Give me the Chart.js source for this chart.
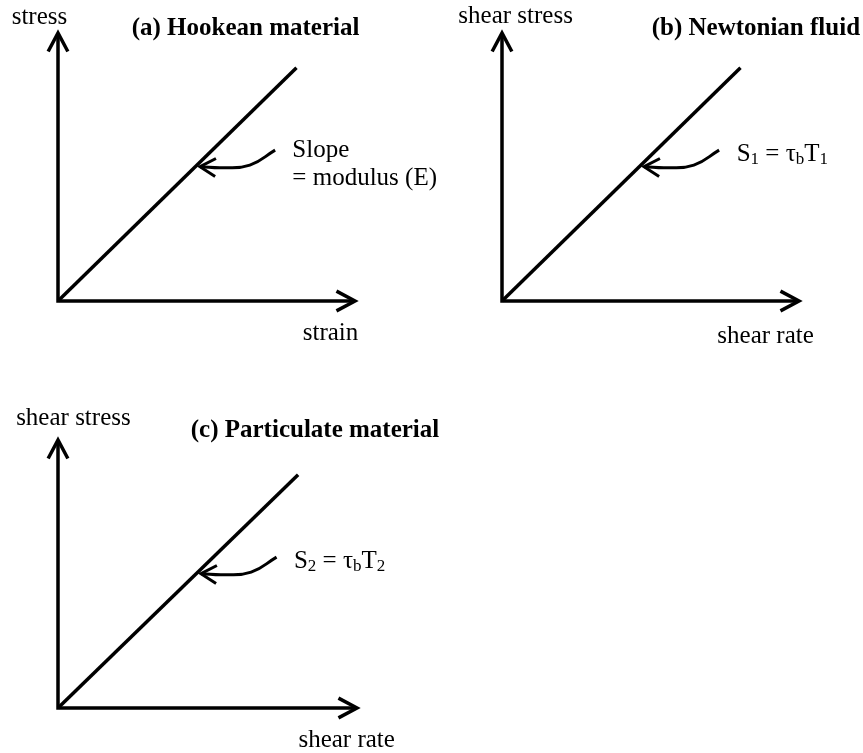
<!DOCTYPE html>
<html>
<head>
<meta charset="utf-8">
<title>Stress response: Hookean, Newtonian, particulate</title>
<script src="https://cdn.jsdelivr.net/npm/chart.js@4.4.0/dist/chart.umd.min.js"></script>
<style>
    body { margin: 0; background: #fff; }
    #wrap { position: relative; width: 863px; height: 753px; overflow: hidden; background: #fff; }
    .panel { position: absolute; }
</style>
</head>
<body>
<div id="wrap">
    <div class="panel" id="panel0"><canvas></canvas></div>
    <div class="panel" id="panel1"><canvas></canvas></div>
    <div class="panel" id="panel2"><canvas></canvas></div>
</div>
<script>
'use strict'

// text
const panelTitles = ['(a) Hookean material', '(b) Newtonian fluid', '(c) Particulate material'];
const yAxisLabels = ['stress', 'shear stress', 'shear stress'];
const xAxisLabels = ['strain', 'shear rate', 'shear rate'];
// "_x" = subscript x
const slopeNotes = [['Slope', '= modulus (E)'], ['S_1 = τ_bT_1'], ['S_2 = τ_bT_2']];

// axes: up the y axis, through the origin, out along x (0..100 both ways)
const axisX = [0, 0, 100];
const axisY = [100, 0, 0];

// straight response line from the origin
const lineX = [0, 80.3];
const lineY = [0, 87];

// curved pointer, from its tail to the tip touching the line
const pointerX = [73.1, 64.6, 55.6, 47.8];
const pointerY = [56.3, 50.7, 49.7, 50.1];


// layout only (pixels / anchors in axis units)
const panelBoxes = [
    { left: 0,   top: 0,   width: 445, height: 376, pad: { left: 58, top: 33, right: 90, bottom: 75 } },
    { left: 431, top: 0,   width: 432, height: 376, pad: { left: 71, top: 33, right: 64, bottom: 75 } },
    { left: 0,   top: 376, width: 445, height: 377, pad: { left: 58, top: 64, right: 88, bottom: 45 } }
];
const labelSpots = [
    { yLab: [-15.6, 103.4], title: [24.8, 99.3],  note: [78.9, 53.8], xLab: [82.4, -14.6] },
    { yLab: [-14.7, 103.6], title: [50.4, 99.3],  note: [79.0, 52.2], xLab: [72.5, -15.8] },
    { yLab: [-14.0, 105.6], title: [44.4, 101.2], note: [78.9, 52.1], xLab: [80.4, -14.4] }
];

const FONT = "'Liberation Serif', 'Times New Roman', serif";
const TEXT_SIZE = 25;


function toPoints(xs, ys) {
    return xs.map((x, i) => ({ x: x, y: ys[i] }));
}

// draws text with _x subscripts, left aligned at baseline
function drawRich(ctx, str, x, y, size) {
    const parts = str.split(/_(.)/);
    let cx = x;
    parts.forEach((part, i) => {
        if (!part) return;
        const sub = i % 2 === 1;
        const s = sub ? Math.round(size * 0.66) : size;
        ctx.font = `${s}px ${FONT}`;
        ctx.fillText(part, cx, y + (sub ? size * 0.12 : 0));
        cx += ctx.measureText(part).width;
    });
}


const arrowHeads = {
    id: 'arrowHeads',
    afterDatasetsDraw(chart) {
        const ctx = chart.ctx;
        chart.data.datasets.forEach((ds, i) => {
            if (!ds.arrowAt) return;
            const pts = chart.getDatasetMeta(i).data;
            ds.arrowAt.forEach(end => {
                const tip = end === 'start' ? pts[0] : pts[pts.length - 1];
                const from = end === 'start' ? pts[1] : pts[pts.length - 2];
                const ang = Math.atan2(tip.y - from.y, tip.x - from.x);
                const len = ds.arrowLen;
                const spread = ds.arrowSpread * Math.PI / 180;

                ctx.save();
                ctx.strokeStyle = ds.borderColor;
                ctx.lineWidth = ds.borderWidth;
                ctx.lineJoin = 'miter';
                ctx.lineCap = 'butt';
                ctx.beginPath();
                ctx.moveTo(tip.x - len * Math.cos(ang - spread), tip.y - len * Math.sin(ang - spread));
                ctx.lineTo(tip.x, tip.y);
                ctx.lineTo(tip.x - len * Math.cos(ang + spread), tip.y - len * Math.sin(ang + spread));
                ctx.stroke();
                ctx.restore();
            });
        });
    }
};

const panelText = {
    id: 'panelText',
    afterDraw(chart, args, opts) {
        const ctx = chart.ctx;
        const xs = chart.scales.x;
        const ys = chart.scales.y;
        const px = p => xs.getPixelForValue(p[0]);
        const py = p => ys.getPixelForValue(p[1]);
        const spot = opts.spot;

        ctx.save();
        ctx.fillStyle = '#000';
        ctx.textAlign = 'left';
        ctx.textBaseline = 'alphabetic';

        ctx.font = `${TEXT_SIZE}px ${FONT}`;
        ctx.fillText(opts.yLabel, px(spot.yLab), py(spot.yLab));
        ctx.fillText(opts.xLabel, px(spot.xLab), py(spot.xLab));

        ctx.font = `bold ${TEXT_SIZE}px ${FONT}`;
        ctx.fillText(opts.title, px(spot.title), py(spot.title));

        opts.note.forEach((line, k) => {
            drawRich(ctx, line, px(spot.note), py(spot.note) + k * 28, TEXT_SIZE);
        });
        ctx.restore();
    }
};


function renderPanel(k) {

    const box = panelBoxes[k];
    const holder = document.getElementById('panel' + k);
    holder.style.left = box.left + 'px';
    holder.style.top = box.top + 'px';
    holder.style.width = box.width + 'px';
    holder.style.height = box.height + 'px';

    const ctx = holder.querySelector('canvas').getContext('2d');

    new Chart(ctx, {
        type: 'line',
        data: {
            datasets: [
                {
                    label: 'axes',
                    data: toPoints(axisX, axisY),
                    borderColor: '#000',
                    borderWidth: 3.5,
                    borderJoinStyle: 'miter',
                    borderCapStyle: 'butt',
                    pointRadius: 0,
                    tension: 0,
                    clip: false,
                    arrowAt: ['start', 'end'],
                    arrowLen: 21,
                    arrowSpread: 28
                },
                {
                    label: 'response',
                    data: toPoints(lineX, lineY),
                    borderColor: '#000',
                    borderWidth: 3.5,
                    pointRadius: 0,
                    tension: 0,
                    clip: false
                },
                {
                    label: 'pointer',
                    data: toPoints(pointerX, pointerY),
                    borderColor: '#000',
                    borderWidth: 3,
                    pointRadius: 0,
                    tension: 0.45,
                    clip: false,
                    arrowAt: ['end'],
                    arrowLen: 18,
                    arrowSpread: 30
                }
            ]
        },
        options: {
            responsive: true,
            maintainAspectRatio: false,
            animation: false,
            events: [],
            layout: { padding: box.pad },
            plugins: {
                legend: { display: false },
                tooltip: { enabled: false },
                panelText: {
                    spot: labelSpots[k],
                    title: panelTitles[k],
                    xLabel: xAxisLabels[k],
                    yLabel: yAxisLabels[k],
                    note: slopeNotes[k]
                }
            },
            scales: {
                x: { type: 'linear', min: 0, max: 100, display: false },
                y: { type: 'linear', min: 0, max: 100, display: false }
            }
        },
        plugins: [arrowHeads, panelText]
    });
}

renderPanel(0);
renderPanel(1);
renderPanel(2);
</script>
</body>
</html>
